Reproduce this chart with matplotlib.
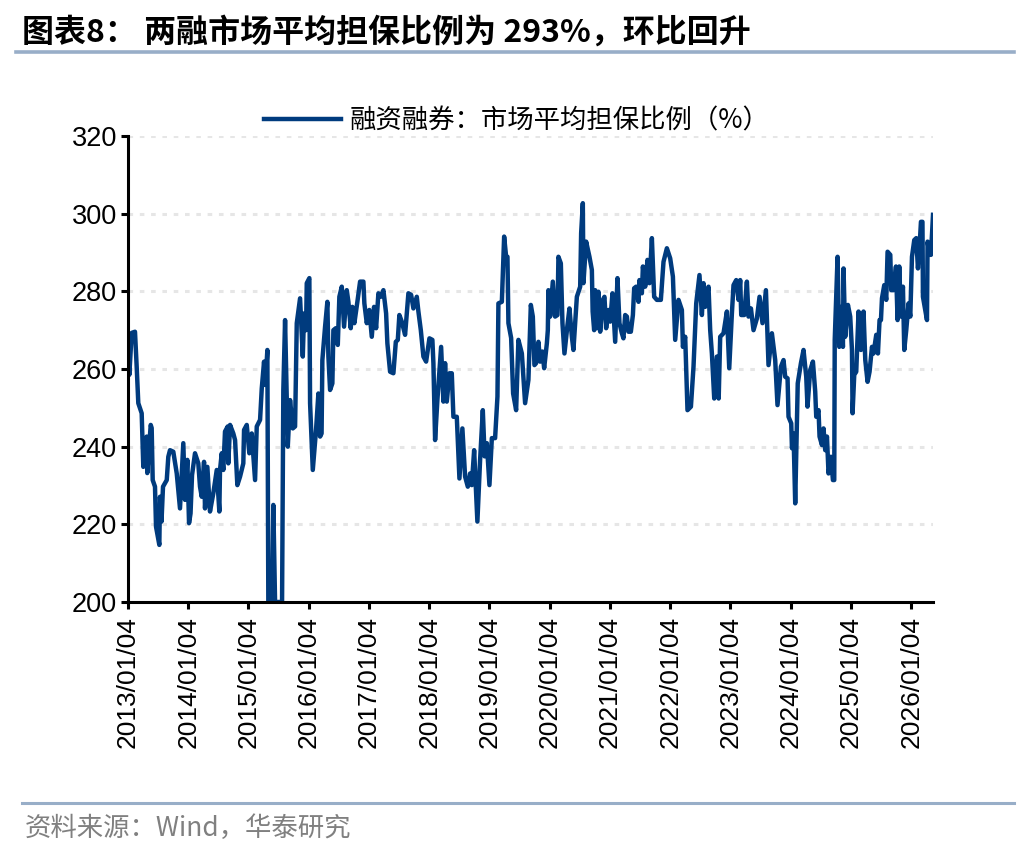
import numpy as np
import pandas as pd
import matplotlib
matplotlib.use("Agg")
import matplotlib.pyplot as plt

# --- Dados (ano decimal, %) ---
year_pos = [
    2013.000, 2013.022, 2013.061, 2013.116, 2013.144, 2013.171, 2013.227, 2013.254, 2013.310, 2013.320,
    2013.377, 2013.393, 2013.410, 2013.448, 2013.465, 2013.520, 2013.531, 2013.556, 2013.581, 2013.643,
    2013.669, 2013.697, 2013.752, 2013.809, 2013.863, 2013.918, 2013.946, 2013.985, 2014.013, 2014.038,
    2014.063, 2014.112, 2014.167, 2014.195, 2014.224, 2014.262, 2014.278, 2014.317, 2014.361, 2014.416,
    2014.473, 2014.516, 2014.527, 2014.556, 2014.582, 2014.610, 2014.655, 2014.665, 2014.694, 2014.748,
    2014.777, 2014.815, 2014.860, 2014.914, 2014.926, 2014.971, 2015.014, 2015.054, 2015.109, 2015.137,
    2015.192, 2015.220, 2015.258, 2015.280, 2015.313, 2015.329, 2015.391, 2015.412, 2015.441, 2015.557,
    2015.578, 2015.607, 2015.652, 2015.690, 2015.735, 2015.773, 2015.801, 2015.856, 2015.901, 2015.922,
    2015.955, 2015.967, 2016.010, 2016.022, 2016.067, 2016.121, 2016.160, 2016.188, 2016.213, 2016.226,
    2016.271, 2016.309, 2016.326, 2016.354, 2016.392, 2016.409, 2016.448, 2016.482, 2016.508, 2016.548,
    2016.586, 2016.631, 2016.658, 2016.697, 2016.724, 2016.757, 2016.807, 2016.852, 2016.907, 2016.923,
    2016.963, 2017.006, 2017.046, 2017.084, 2017.118, 2017.156, 2017.196, 2017.239, 2017.284, 2017.305,
    2017.350, 2017.405, 2017.445, 2017.478, 2017.504, 2017.544, 2017.599, 2017.654, 2017.699, 2017.737,
    2017.793, 2017.820, 2017.860, 2017.903, 2017.948, 2018.003, 2018.052, 2018.069, 2018.097, 2018.135,
    2018.197, 2018.235, 2018.263, 2018.291, 2018.335, 2018.374, 2018.401, 2018.457, 2018.501, 2018.550,
    2018.595, 2018.640, 2018.678, 2018.706, 2018.745, 2018.799, 2018.844, 2018.889, 2018.919, 2018.956,
    2018.999, 2019.039, 2019.093, 2019.132, 2019.148, 2019.205, 2019.243, 2019.276, 2019.298, 2019.314,
    2019.359, 2019.392, 2019.442, 2019.480, 2019.537, 2019.591, 2019.646, 2019.686, 2019.719, 2019.746,
    2019.774, 2019.812, 2019.840, 2019.879, 2019.907, 2019.952, 2019.968, 2019.978, 2020.006, 2020.051,
    2020.089, 2020.128, 2020.144, 2020.184, 2020.211, 2020.244, 2020.294, 2020.327, 2020.367, 2020.393,
    2020.450, 2020.505, 2020.521, 2020.549, 2020.559, 2020.604, 2020.659, 2020.699, 2020.712, 2020.737,
    2020.754, 2020.782, 2020.808, 2020.837, 2020.881, 2020.908, 2020.936, 2020.974, 2021.003, 2021.041,
    2021.086, 2021.124, 2021.157, 2021.197, 2021.223, 2021.252, 2021.280, 2021.307, 2021.346, 2021.380,
    2021.401, 2021.434, 2021.473, 2021.489, 2021.529, 2021.546, 2021.584, 2021.622, 2021.655, 2021.695,
    2021.733, 2021.778, 2021.844, 2021.888, 2021.944, 2021.999, 2022.044, 2022.082, 2022.137, 2022.193,
    2022.210, 2022.248, 2022.286, 2022.343, 2022.386, 2022.431, 2022.485, 2022.525, 2022.552, 2022.580,
    2022.635, 2022.663, 2022.691, 2022.730, 2022.774, 2022.804, 2022.829, 2022.884, 2022.940, 2022.979,
    2023.023, 2023.050, 2023.095, 2023.133, 2023.161, 2023.178, 2023.228, 2023.272, 2023.299, 2023.339,
    2023.382, 2023.438, 2023.482, 2023.531, 2023.588, 2023.631, 2023.687, 2023.742, 2023.780, 2023.837,
    2023.880, 2023.908, 2023.947, 2023.963, 2024.008, 2024.020, 2024.046, 2024.074, 2024.116, 2024.169,
    2024.212, 2024.257, 2024.278, 2024.323, 2024.368, 2024.406, 2024.423, 2024.461, 2024.478, 2024.518,
    2024.544, 2024.572, 2024.601, 2024.627, 2024.667, 2024.700, 2024.722, 2024.730, 2024.777, 2024.805,
    2024.838, 2024.866, 2024.876, 2024.904, 2024.949, 2024.987, 2025.016, 2025.026, 2025.054, 2025.087,
    2025.125, 2025.165, 2025.208, 2025.237, 2025.275, 2025.308, 2025.348, 2025.374, 2025.419, 2025.447,
    2025.474, 2025.497, 2025.514, 2025.552, 2025.585, 2025.607, 2025.652, 2025.668, 2025.706, 2025.746,
    2025.773, 2025.801, 2025.829, 2025.862, 2025.884, 2025.917, 2025.955, 2025.984, 2026.012, 2026.050,
    2026.083, 2026.111, 2026.138, 2026.161, 2026.186, 2026.194, 2026.233, 2026.261, 2026.271, 2026.304,
    2026.327, 2026.361,
]
ratio = [
    265.7, 258.5, 269.3, 269.6, 260.6, 251.2, 248.6, 234.8, 242.6, 233.2,
    245.6, 244.8, 231.4, 229.7, 219.4, 214.7, 227.1, 220.7, 229.7, 231.4,
    237.4, 239.1, 238.7, 233.1, 224.1, 240.9, 226.3, 236.6, 220.3, 222.8,
    232.7, 238.3, 235.7, 229.7, 227.1, 236.1, 224.1, 234.8, 223.3, 228.0,
    234.0, 223.3, 234.0, 238.3, 234.0, 243.9, 245.2, 235.7, 245.6, 243.4,
    241.7, 230.1, 232.3, 235.7, 244.3, 245.6, 238.3, 243.4, 231.4, 245.2,
    246.9, 255.0, 261.9, 255.9, 264.9, 200.0, 200.0, 225.0, 200.0, 200.0,
    254.6, 272.6, 240.0, 252.0, 244.7, 245.2, 271.8, 278.2, 263.2, 274.3,
    270.0, 282.1, 283.4, 251.2, 234.0, 244.3, 253.7, 242.6, 243.4, 262.3,
    270.9, 277.3, 263.2, 254.6, 256.3, 270.0, 270.5, 266.2, 278.6, 281.2,
    270.9, 280.3, 277.3, 270.5, 276.0, 271.8, 277.3, 282.5, 282.5, 276.9,
    271.8, 275.2, 268.3, 276.0, 270.5, 279.5, 278.6, 280.3, 274.3, 266.6,
    259.3, 258.9, 267.0, 267.5, 273.9, 272.2, 268.8, 279.5, 279.1, 275.6,
    278.6, 274.8, 270.0, 263.2, 261.9, 267.9, 267.5, 261.5, 241.7, 252.0,
    265.7, 251.6, 261.5, 251.6, 258.9, 258.9, 247.7, 247.7, 231.8, 244.7,
    232.3, 229.7, 233.1, 230.1, 239.1, 220.7, 236.6, 249.4, 237.5, 240.9,
    230.1, 242.2, 242.2, 252.9, 276.9, 277.3, 294.1, 288.9, 288.9, 271.8,
    268.0, 253.7, 249.4, 267.5, 264.0, 251.2, 257.2, 276.5, 273.5, 261.0,
    261.5, 267.0, 261.9, 264.5, 260.2, 266.6, 270.0, 280.3, 273.5, 282.5,
    273.5, 273.9, 288.9, 287.2, 271.8, 264.0, 271.3, 275.6, 268.3, 264.9,
    278.6, 281.2, 295.0, 302.7, 282.1, 292.8, 288.9, 285.5, 274.8, 270.0,
    280.3, 270.5, 279.9, 269.6, 277.8, 278.6, 270.5, 275.2, 272.2, 279.5,
    267.0, 283.4, 271.8, 269.2, 267.9, 273.9, 273.5, 269.6, 269.6, 273.9,
    280.8, 281.2, 277.3, 282.9, 279.5, 286.4, 281.2, 288.1, 282.1, 293.7,
    278.6, 277.8, 277.8, 287.6, 291.1, 288.5, 283.8, 267.5, 277.8, 275.2,
    265.7, 268.3, 249.4, 250.3, 260.6, 276.9, 284.2, 273.9, 282.1, 276.0,
    281.2, 270.0, 264.0, 252.4, 263.2, 252.4, 268.3, 269.2, 274.8, 260.2,
    274.3, 281.6, 282.9, 277.8, 282.9, 273.9, 273.9, 282.5, 273.5, 275.6,
    270.0, 273.0, 278.6, 271.8, 280.3, 261.0, 269.2, 262.3, 250.7, 260.6,
    262.3, 258.0, 257.6, 247.7, 246.0, 239.6, 243.4, 225.4, 256.3, 261.5,
    264.9, 258.0, 250.3, 259.7, 261.9, 254.2, 247.7, 249.4, 242.6, 240.4,
    244.7, 239.1, 242.6, 233.1, 237.4, 231.4, 231.4, 267.5, 288.9, 265.7,
    276.0, 265.7, 285.9, 268.3, 276.5, 273.5, 264.9, 248.6, 258.5, 259.3,
    274.8, 264.9, 274.8, 262.3, 256.7, 259.3, 265.7, 264.0, 268.8, 264.0,
    272.6, 272.6, 278.2, 281.6, 277.8, 290.2, 289.4, 280.3, 280.3, 286.4,
    272.6, 286.4, 273.5, 281.2, 264.9, 270.0, 276.9, 273.5, 288.9, 293.2,
    293.7, 285.9, 291.5, 297.9, 297.9, 278.6, 275.2, 272.6, 292.8, 289.4,
    289.4, 299.7,
]
tick_years = list(range(2013, 2027))
y_ticks = [200, 220, 240, 260, 280, 300, 320]

title = "图表8： 两融市场平均担保比例为 293%，环比回升"
legend_label = "融资融券：市场平均担保比例（%）"
source = "资料来源：Wind，华泰研究"

# --- Conversão para datas ---
start = pd.Timestamp("2013-01-04")
dates = start + pd.to_timedelta((np.array(year_pos) - 2013) * 365.25, unit="D")
tick_dates = [pd.Timestamp(f"{y}-01-04") for y in tick_years]

cjk = ["Noto Sans CJK SC", "DejaVu Sans"]
num_font = "Liberation Sans"
line_color = "#003B7E"
rule_color = "#98AEC8"

fig = plt.figure(figsize=(10.36, 8.52), dpi=100)
ax = fig.add_axes([128 / 1036, 1 - 602 / 852, (933 - 128) / 1036, (602 - 136) / 852])

ax.plot(dates, ratio, color=line_color, lw=3.2, solid_joinstyle="round", label=legend_label)

ax.set_ylim(200, 320)
ax.set_yticks(y_ticks)
ax.set_xlim(start, dates[-1])
ax.set_xticks(tick_dates)
ax.set_xticklabels([d.strftime("%Y/%m/%d") for d in tick_dates], rotation=90,
                   fontsize=19, family=num_font)
ax.set_yticklabels([str(v) for v in y_ticks], fontsize=19.5, family=num_font)

ax.grid(axis="y", color="#E6E6E6", lw=2.2, linestyle=(0, (1.5, 2.2)))
ax.set_axisbelow(True)
for s in ["top", "right"]:
    ax.spines[s].set_visible(False)
for s in ["left", "bottom"]:
    ax.spines[s].set_linewidth(2.2)
ax.tick_params(axis="both", direction="out", length=5, width=2.2, color="black")
ax.tick_params(axis="y", pad=3)
ax.tick_params(axis="x", pad=5)

# Legenda no topo
fig.legend(loc="center", bbox_to_anchor=(0.499, 1 - 121 / 852), frameon=False,
           handlelength=2.9, handletextpad=0.35, prop={"family": cjk, "size": 19})

# Título e fonte
fig.text(22 / 1036, 1 - 33 / 852, title, fontsize=23, fontweight="bold",
         family=cjk, va="center", ha="left")
fig.add_artist(plt.Line2D([16 / 1036, 1014 / 1036], [1 - 52 / 852] * 2,
                          color=rule_color, lw=2.6, transform=fig.transFigure))
fig.add_artist(plt.Line2D([22 / 1036, 1014 / 1036], [1 - 803 / 852] * 2,
                          color=rule_color, lw=2.2, transform=fig.transFigure))
fig.text(25 / 1036, 1 - 828 / 852, source, fontsize=19, color="#808080",
         family=cjk, va="center", ha="left")

fig.savefig("out.png", dpi=100)
plt.close(fig)
